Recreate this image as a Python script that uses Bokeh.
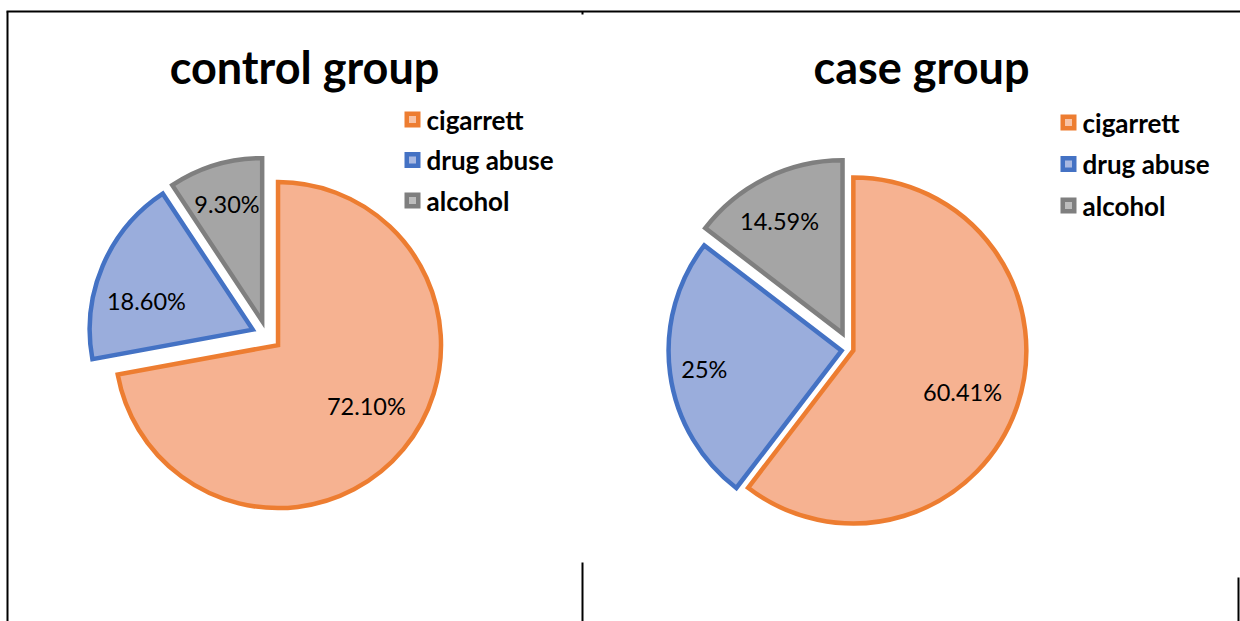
import math
from bokeh.plotting import figure
from bokeh.models import Range1d
from bokeh.core.properties import value
from bokeh.embed import file_html
from bokeh.resources import INLINE

# ---------------- data ----------------
categories = ["cigarrett", "drug abuse", "alcohol"]
control_values = [72.10, 18.60, 9.30]
case_values = [60.41, 25.0, 14.59]
control_labels = ["72.10%", "18.60%", "9.30%"]
case_labels = ["60.41%", "25%", "14.59%"]
titles = ["control group", "case group"]

# ---------------- styles ----------------
fills = ["#F6B291", "#9AADDC", "#A5A5A5"]
lines = ["#ED7D31", "#4472C4", "#7F7F7F"]
inner = ["#F8C3A6", "#A9B9E2", "#BDBDBD"]
FONT = "Lato"

W, H = 1240, 621
p = figure(width=W, height=H, output_backend="svg", toolbar_location=None,
           x_range=Range1d(0, W), y_range=Range1d(-H, 0),
           x_axis_type=None, y_axis_type=None, min_border=0,
           outline_line_color=None)
p.grid.visible = False
p.background_fill_color = "white"


def Y(v):
    return -v


def draw_pie(cx, cy, r, vals, labels, explode, lab_frac, lab_shift, title, tx, ty,
             leg_x, leg_y, leg_dy):
    total = sum(vals)
    cum = 0.0
    xs, ys, sa, ea = [], [], [], []
    lx, ly = [], []
    for i, v in enumerate(vals):
        t0 = cum / total * 360.0
        t1 = (cum + v) / total * 360.0
        cum += v
        mid = math.radians((t0 + t1) / 2)
        vx = cx + explode[i] * math.sin(mid)
        vy = cy - explode[i] * math.cos(mid)
        xs.append(vx)
        ys.append(Y(vy))
        sa.append(math.radians(90 - t0))
        ea.append(math.radians(90 - t1))
        lm = mid + math.radians(lab_shift[i])
        lx.append(vx + lab_frac[i] * r * math.sin(lm))
        ly.append(Y(vy - lab_frac[i] * r * math.cos(lm)))
    for i in range(len(vals)):
        p.wedge(x=xs[i], y=ys[i], radius=r, start_angle=sa[i], end_angle=ea[i],
                direction="clock", fill_color=fills[i], line_color=lines[i],
                line_width=4.5, line_join="miter")
    p.text(x=lx, y=ly, text=labels, text_align="center", text_baseline="middle",
           text_font=value(FONT), text_font_size="23.5px", text_color="#000000")
    p.text(x=[tx], y=[Y(ty)], text=[title], text_align="center", text_baseline="middle",
           text_font=value(FONT), text_font_size="45px", text_font_style="bold",
           text_color="#000000")
    lys = [Y(leg_y + k * leg_dy) for k in range(len(categories))]
    p.scatter(x=[leg_x] * 3, y=lys, marker="square", size=16, fill_color=lines,
              line_color=None)
    p.scatter(x=[leg_x] * 3, y=lys, marker="square", size=7, fill_color=inner,
              line_color=None)
    p.text(x=[leg_x + 14] * 3, y=lys, text=categories, text_align="left",
           text_baseline="middle", text_font=value(FONT), text_font_size="26px",
           text_font_style="bold", text_color="#000000")


draw_pie(266, 335, 163, control_values, control_labels, [15, 15, 15],
         [0.66, 0.675, 0.75], [-5, -8, 0], titles[0], 304, 66, 412, 119, 40.5)
draw_pie(850, 349, 173, case_values, case_labels, [3, 9, 18],
         [0.675, 0.8, 0.745], [2, 0, -3], titles[1], 921, 66, 1068, 122, 41.5)

# table borders
p.segment(x0=[6, 7, 582, 582, 1238], y0=[Y(11), Y(11), Y(11), Y(562), Y(577)],
          x1=[1240, 7, 582, 582, 1238], y1=[Y(11), Y(621), Y(14), Y(621), Y(621)],
          line_color="black", line_width=2)

open("out.html", "w").write(file_html(p, INLINE))
